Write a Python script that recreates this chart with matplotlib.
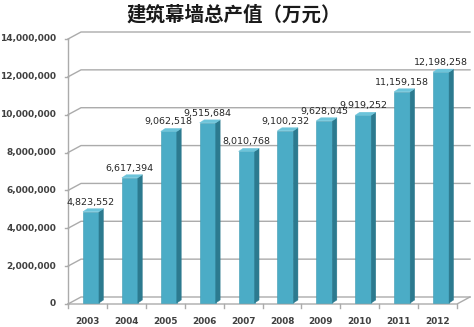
import matplotlib.pyplot as plt
from matplotlib.patches import Polygon

plt.rcParams['font.family'] = ['DejaVu Sans']

# data
years = ['2003', '2004', '2005', '2006', '2007', '2008', '2009', '2010', '2011', '2012']
values = [4823552, 6617394, 9062518, 9515684, 8010768, 9100232, 9628045, 9919252, 11159158, 12198258]
yticks = [0, 2000000, 4000000, 6000000, 8000000, 10000000, 12000000, 14000000]
title = '建筑幕墙总产值（万元）'

W, H = 474, 327
fig = plt.figure(figsize=(W / 100, H / 100), dpi=100)
fig.patch.set_facecolor('white')

# front plane of the 3d box, in pixels
x0, x1 = 68, 457
y_bot, y_top = 304, 39
ax = fig.add_axes([x0 / W, (H - y_bot) / H, (x1 - x0) / W, (y_bot - y_top) / H])
n = len(years)
ymax = yticks[-1]
ax.set_xlim(0, n)
ax.set_ylim(0, ymax)
ax.axis('off')

ux = (x1 - x0) / n          # pixels per category
uy = (y_bot - y_top) / ymax  # pixels per unit value

grid_c = '#ababab'
# back wall offset
gx, gy = 13 / ux, 7 / uy
for v in yticks:
    ax.plot([0, gx, n + gx], [v, v + gy, v + gy], color=grid_c, lw=1, clip_on=False)
    ax.plot([0, -3 / ux], [v, v], color=grid_c, lw=1, clip_on=False)
    ax.text(-12 / ux, v, f'{v:,}', ha='right', va='center', fontsize=6.5,
            color='#404040', fontweight='semibold')
# left axis and floor
ax.plot([0, 0], [0, ymax], color=grid_c, lw=1, clip_on=False)
ax.plot([0, n, n + gx], [0, 0, gy], color=grid_c, lw=1, clip_on=False)
for i in range(n + 1):
    ax.plot([i, i], [0, -4 / uy], color=grid_c, lw=1, clip_on=False)

# bars with fake depth
bw = 16 / ux
bx, by = 3.5 / ux, 1.0 / uy
dx, dy = 4.5 / ux, 3.0 / uy
front_c, side_c, top_c = '#4bacc6', '#2c7a8f', '#6cc4da'
for i, v in enumerate(values):
    left = i + 0.5 - bw / 2 + bx
    right = left + bw
    ax.bar(left, v, width=bw, bottom=by, align='edge', color=front_c,
           edgecolor='#3d9bb3', lw=0.4, zorder=3, clip_on=False)
    side = [(right, by), (right + dx, by + dy), (right + dx, v + by + dy), (right, v + by)]
    ax.add_patch(Polygon(side, closed=True, facecolor=side_c, edgecolor=side_c,
                         lw=0.3, zorder=3, clip_on=False))
    top = [(left, v + by), (left + dx, v + by + dy), (right + dx, v + by + dy), (right, v + by)]
    ax.add_patch(Polygon(top, closed=True, facecolor=top_c, edgecolor=top_c,
                         lw=0.3, zorder=3, clip_on=False))
    ax.text(i + 0.5 + bx, v + by + 5 / uy, f'{v:,}', ha='center', va='bottom',
            fontsize=6.8, color='#262626', zorder=4)
    ax.text(i + 0.5, -17 / uy, years[i], ha='center', va='center', fontsize=6.4,
            color='#404040', fontweight='bold')

fig.text(234 / W, 1 - 15 / H, title, ha='center', va='center', fontsize=14,
         fontweight='bold', color='#1a1a1a',
         family=['Noto Sans CJK SC', 'DejaVu Sans'])

fig.savefig('out.png', dpi=100, facecolor='white')
